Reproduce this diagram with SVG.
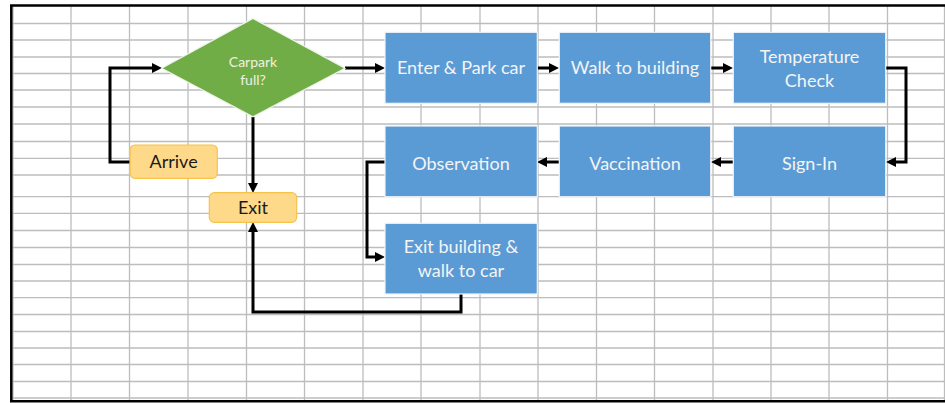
<svg xmlns="http://www.w3.org/2000/svg" width="945" height="403" viewBox="0 0 945 403">
<style>
.grid{stroke:#BDBDBD;stroke-width:1.3;fill:none}
.conn{stroke:#000;stroke-width:3;fill:none;marker-end:url(#arr)}
.box{fill:#5B9BD5;stroke:#EEF3FA;stroke-width:1.2}
.term{fill:#FFD98A;stroke:#F7C24A;stroke-width:1.2}
.dec{fill:#70AD47;stroke:#EEF3E8;stroke-width:1.2}
.t{font-family:Lato,"Liberation Sans",sans-serif;font-size:18px;fill:#F4F4F4;text-anchor:middle}
.tt{font-family:Lato,"Liberation Sans",sans-serif;font-size:18px;fill:#1A1A1A;text-anchor:middle}
.ts{font-family:Lato,"Liberation Sans",sans-serif;font-size:14px;fill:#F0F0E4;text-anchor:middle}
</style>
<defs>
<marker id="arr" markerUnits="userSpaceOnUse" markerWidth="10" markerHeight="10" refX="2" refY="5" orient="auto">
<path d="M0,0 L10,5 L0,10 z" fill="#000"/>
</marker>
</defs>
<rect x="0" y="0" width="945" height="403" fill="#FFFFFF"/>
<g id="grid">
<path class="grid" d="M13,5 V401 M71,5 V401 M129.5,5 V401 M188,5 V401 M246.5,5 V401 M304.5,5 V401 M363,5 V401 M421,5 V401 M480,5 V401 M538,5 V401 M596.5,5 V401 M654.5,5 V401 M713,5 V401 M771,5 V401 M829,5 V401 M887.5,5 V401 M944.5,5 V401"/>
<path class="grid" d="M11,23.5 H945 M11,40 H945 M11,57 H945 M11,73.5 H945 M11,90 H945 M11,107 H945 M11,124 H945 M11,141.5 H945 M11,158.3 H945 M11,175 H945 M11,196.7 H945 M11,213.3 H945 M11,230.5 H945 M11,247.5 H945 M11,264.5 H945 M11,281 H945 M11,297.7 H945 M11,314.5 H945 M11,331.5 H945 M11,348 H945 M11,364.5 H945 M11,381.5 H945 M11,398 H945"/>
<path d="M11.3,401 V5.5 H946" stroke="#000" stroke-width="2.5" fill="none"/>
<path d="M10,401.3 H946" stroke="#000" stroke-width="2.5" fill="none"/>
</g>
<g id="connectors">
<path class="conn" d="M130,162 H110 V68 H154"/>
<path class="conn" d="M253,117 V185"/>
<path class="conn" d="M345,68 H377"/>
<path class="conn" d="M537,68 H551"/>
<path class="conn" d="M711,68 H725"/>
<path class="conn" d="M886,68 H906 V162 H894"/>
<path class="conn" d="M733,162 H719"/>
<path class="conn" d="M559,162 H545"/>
<path class="conn" d="M385,162 H367 V257 H377"/>
<path class="conn" d="M461,294 V312 H253 V230"/>
</g>
<g id="carpark">
<polygon class="dec" points="253,18.5 345,68.3 253,116.7 161.7,68.3"/>
<text class="ts" x="253" y="66.5">Carpark</text>
<text class="ts" x="253" y="85">full?</text>
</g>
<g id="enter">
<rect class="box" x="385" y="32.3" width="152.3" height="71"/>
<text class="t" x="461" y="74">Enter &amp; Park car</text>
</g>
<g id="walk">
<rect class="box" x="559.3" y="32.3" width="151.4" height="71"/>
<text class="t" x="635" y="74">Walk to building</text>
</g>
<g id="temperature">
<rect class="box" x="733.3" y="32.3" width="152.4" height="71"/>
<text class="t" x="809.5" y="63.3">Temperature</text>
<text class="t" x="809.5" y="87.3">Check</text>
</g>
<g id="signin">
<rect class="box" x="733.3" y="126" width="152.4" height="70.7"/>
<text class="t" x="809.5" y="169.5">Sign-In</text>
</g>
<g id="vaccination">
<rect class="box" x="559.3" y="126" width="151.4" height="70.7"/>
<text class="t" x="635" y="169.5">Vaccination</text>
</g>
<g id="observation">
<rect class="box" x="385" y="126" width="152.3" height="70.7"/>
<text class="t" x="461" y="169.5">Observation</text>
</g>
<g id="exitbuilding">
<rect class="box" x="385" y="223.3" width="152.3" height="70.7"/>
<text class="t" x="461" y="252.7">Exit building &amp;</text>
<text class="t" x="461" y="276.7">walk to car</text>
</g>
<g id="arrive">
<rect class="term" x="130" y="145" width="87.3" height="33.3" rx="5"/>
<text class="tt" x="173.6" y="168.3">Arrive</text>
</g>
<g id="exit">
<rect class="term" x="209.3" y="192.7" width="87.4" height="29.6" rx="5"/>
<text class="tt" x="253" y="214">Exit</text>
</g>
</svg>
